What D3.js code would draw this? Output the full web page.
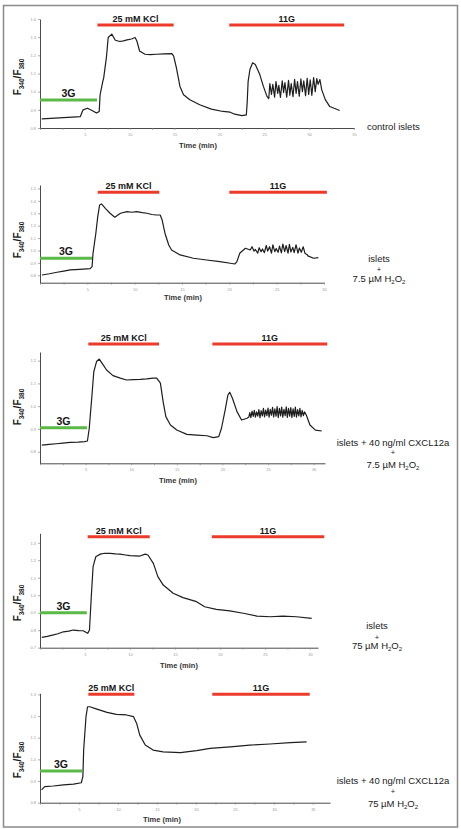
<!DOCTYPE html>
<html>
<head>
<meta charset="utf-8">
<script src="https://cdn.jsdelivr.net/npm/d3@7"></script>
<style>
  body { margin: 0; background: #fff; }
  svg { display: block; font-family: "Liberation Sans", Arial, sans-serif; }
</style>
</head>
<body>
<div id="chart"></div>
<script>
// ---- traces: [time (min), F340/F380] ----
const traceControl = [
  [0.2,0.85],[1.2,0.853],[2.6,0.857],[3.6,0.86],[4.5,0.863],[4.8,0.9],[5.3,0.909],[5.9,0.894],
  [6.3,0.882],[6.6,0.891],[6.7,0.983],[7.0,1.057],[7.1,1.076],[7.4,1.187],[7.6,1.298],[8.0,1.317],
  [8.4,1.283],[8.9,1.276],[9.3,1.28],[9.7,1.285],[10.2,1.29],[10.6,1.298],[10.8,1.279],[11.1,1.224],
  [11.7,1.206],[12.3,1.204],[13.0,1.206],[13.8,1.208],[14.7,1.209],[14.9,1.196],[15.2,1.132],[15.6,1.029],
  [16.0,0.983],[16.7,0.956],[17.8,0.928],[19.1,0.904],[20.4,0.891],[21.2,0.887],[21.7,0.876],[22.5,0.868],
  [23.0,0.872],[23.1,0.946],[23.2,1.057],[23.4,1.122],[23.7,1.159],[24.0,1.15],[24.5,1.094],[24.9,1.029],
  [25.3,0.974],[25.5,0.962],[25.62,1.045],[25.8,0.985],[25.95,1.04],[26.15,0.97],[26.3,1.055],[26.5,0.99],
  [26.62,1.035],[26.8,0.968],[27.0,1.06],[27.15,0.995],[27.3,1.05],[27.5,0.97],[27.7,1.062],[27.85,0.98],
  [28.0,1.045],[28.2,0.972],[28.38,1.068],[28.55,0.99],[28.7,1.055],[28.9,0.975],[29.08,1.07],[29.25,1.0],
  [29.4,1.06],[29.6,0.978],[29.78,1.074],[29.95,0.985],[30.12,1.065],[30.3,0.98],[30.5,1.078],[30.68,1.0],
  [30.85,1.072],[31.0,1.04],[31.2,1.067],[31.4,1.011],[31.8,0.956],[32.3,0.918],[33.4,0.896]
];
const traceH2O2Low = [
  [0.2,0.802],[1.0,0.812],[1.8,0.824],[2.5,0.834],[3.2,0.843],[4.2,0.848],[5.3,0.853],[5.5,0.869],
  [5.6,0.977],[5.9,1.139],[6.1,1.273],[6.3,1.367],[6.5,1.375],[6.9,1.34],[7.4,1.3],[7.9,1.268],
  [8.5,1.3],[9.2,1.313],[9.7,1.308],[10.2,1.313],[10.8,1.305],[11.3,1.3],[11.8,1.29],[12.3,1.286],
  [12.7,1.286],[12.9,1.246],[13.2,1.139],[13.6,1.044],[13.9,1.004],[14.8,0.964],[16.2,0.937],[17.6,0.923],
  [19.0,0.91],[20.1,0.897],[20.6,0.891],[20.8,0.91],[21.1,0.977],[21.7,1.018],[22.2,1.004],[22.4,1.03],
  [22.6,0.995],[22.75,1.008],[23.0,0.978],[23.15,1.022],[23.35,0.99],[23.5,1.012],[23.7,0.982],[23.9,1.04],
  [24.05,0.995],[24.25,1.03],[24.45,0.978],[24.6,1.045],[24.8,0.99],[24.95,1.015],[25.15,0.985],[25.3,1.035],
  [25.5,0.98],[25.65,1.052],[25.85,0.99],[26.0,1.04],[26.2,0.978],[26.35,1.05],[26.5,0.988],[26.7,1.025],
  [26.85,0.982],[27.05,1.046],[27.25,0.978],[27.4,1.02],[27.6,0.985],[27.8,1.03],[28.0,0.975],[28.2,0.968],
  [28.3,0.956],[28.9,0.937],[29.4,0.942]
];
const traceCxclLow = [
  [0.2,0.829],[1.0,0.832],[1.8,0.835],[2.5,0.838],[3.3,0.841],[4.2,0.842],[4.9,0.844],[5.2,0.847],
  [5.4,0.903],[5.7,1.049],[5.9,1.152],[6.2,1.196],[6.5,1.207],[6.8,1.189],[7.3,1.159],[8.0,1.134],
  [8.8,1.123],[9.5,1.115],[10.2,1.117],[11.0,1.118],[11.7,1.12],[12.4,1.123],[12.8,1.123],[13.2,1.101],
  [13.5,1.02],[13.8,0.954],[14.3,0.917],[15.0,0.895],[16.1,0.876],[17.2,0.873],[18.3,0.87],[19.0,0.862],
  [19.6,0.866],[19.9,0.903],[20.3,0.983],[20.6,1.049],[20.8,1.061],[21.1,1.035],[21.6,0.976],[22.1,0.939],
  [22.7,0.947],[22.9,0.952],[23.0,0.972],[23.12,0.95],[23.25,0.978],[23.38,0.955],[23.5,0.982],[23.62,0.952],
  [23.75,0.975],[23.88,0.956],[24.0,0.985],[24.12,0.95],[24.25,0.98],[24.38,0.957],[24.5,0.99],[24.62,0.953],
  [24.75,0.983],[24.88,0.958],[25.0,0.992],[25.12,0.952],[25.25,0.986],[25.38,0.96],[25.5,0.995],[25.62,0.953],
  [25.75,0.988],[25.88,0.956],[26.0,0.998],[26.12,0.95],[26.25,0.99],[26.38,0.957],[26.5,0.996],[26.62,0.952],
  [26.75,0.986],[26.88,0.958],[27.0,0.997],[27.12,0.951],[27.25,0.99],[27.38,0.956],[27.5,0.994],[27.62,0.95],
  [27.75,0.988],[27.88,0.955],[28.0,0.996],[28.12,0.952],[28.25,0.985],[28.38,0.957],[28.5,0.99],[28.62,0.953],
  [28.75,0.982],[28.88,0.958],[29.0,0.975],[29.2,0.961],[29.6,0.917],[30.2,0.895],[30.9,0.891]
];
const traceH2O2High = [
  [0.2,0.759],[0.8,0.765],[1.5,0.773],[2.0,0.78],[2.6,0.791],[3.2,0.795],[3.7,0.801],[4.3,0.798],
  [4.8,0.797],[5.3,0.782],[5.5,0.801],[5.7,0.991],[5.9,1.163],[6.2,1.22],[6.7,1.235],[7.2,1.24],
  [7.8,1.239],[8.4,1.236],[8.9,1.235],[9.5,1.23],[10.0,1.226],[10.6,1.225],[11.1,1.224],[11.7,1.235],
  [12.0,1.23],[12.6,1.182],[13.1,1.106],[13.7,1.058],[14.8,1.011],[15.9,0.986],[17.4,0.963],[18.3,0.934],
  [19.6,0.919],[21.1,0.911],[22.6,0.897],[24.1,0.881],[25.6,0.877],[27.0,0.881],[28.5,0.877],[30.2,0.868]
];
const traceCxclHigh = [
  [0.2,0.859],[0.6,0.874],[1.7,0.877],[3.0,0.882],[4.3,0.886],[5.3,0.892],[5.5,0.92],[5.6,1.043],
  [5.9,1.197],[6.1,1.243],[6.4,1.243],[7.3,1.232],[8.6,1.217],[9.8,1.208],[11.1,1.205],[12.0,1.197],
  [12.4,1.166],[12.8,1.112],[13.5,1.066],[14.5,1.043],[15.8,1.035],[18.0,1.031],[20.1,1.04],[21.8,1.051],
  [24.4,1.058],[26.9,1.066],[29.5,1.071],[32.1,1.077],[34.2,1.081]
];

// ---- perfusion periods [start, end] in min ----
const periods3G   = [[0, 6.35], [0, 5.5], [0, 5.15], [0, 5.2], [0, 5.4]];
const periodsKCl  = [[6.4, 14.9], [6.1, 12.6], [5.3, 13.05], [5.3, 12.2], [6.2, 12.1]];
const periods11G  = [[21.1, 33.9], [20.0, 30.3], [18.9, 31.5], [19.1, 31.6], [22.1, 34.6]];

// ---- axes: x extent (min), y extent, y tick labels ----
const xMax   = [35, 30, 31.25, 30.9, 37.2];
const yRange = [[0.8, 1.4], [0.74, 1.528], [0.749, 1.238], [0.7, 1.354], [0.8, 1.305]];
const yTicks = [
  [0.8, 0.9, 1.0, 1.1, 1.2, 1.3, 1.4],
  [0.8, 0.9, 1.0, 1.1, 1.2, 1.3, 1.4, 1.5],
  [0.8, 0.9, 1.0, 1.1, 1.2],
  [0.7, 0.8, 0.9, 1.0, 1.1, 1.2, 1.3],
  [0.8, 0.9, 1.0, 1.1, 1.2, 1.3]
];

// ---- condition labels (lines; "H2O2" gets subscripts) ----
const conditionLabels = [
  ["control islets"],
  ["islets", "+", "7.5 \u00B5M H2O2"],
  ["islets + 40 ng/ml CXCL12a", "+", "7.5 \u00B5M H2O2"],
  ["islets", "+", "75 \u00B5M H2O2"],
  ["islets + 40 ng/ml CXCL12a", "+", "75 \u00B5M H2O2"]
];

const traces = [traceControl, traceH2O2Low, traceCxclLow, traceH2O2High, traceCxclHigh];

// ---- page layout (pixels) ----
const layout = [
  { x0: 40, x1: 354, yBot: 128, yTop: 19, redY: 25, greenY: 100, timeX: 198, timeY: 147.5, fY: 77,
    labX: 367, labAnchor: "start", labY: [130] },
  { x0: 40, x1: 324, yBot: 282.7, yTop: 185, redY: 192.3, greenY: 258.3, timeX: 183, timeY: 300, fY: 240,
    labX: 379, labAnchor: "middle", labY: [262, 272, 282] },
  { x0: 40, x1: 325, yBot: 463.3, yTop: 352, redY: 344, greenY: 427.7, timeX: 178, timeY: 482.5, fY: 407,
    labX: 393, labAnchor: "middle", labY: [445.5, 455, 468] },
  { x0: 40, x1: 318, yBot: 647.7, yTop: 533.3, redY: 536.7, greenY: 612.7, timeX: 179, timeY: 667.5, fY: 603,
    labX: 377, labAnchor: "middle", labY: [629, 639.5, 649] },
  { x0: 40, x1: 330, yBot: 802.7, yTop: 693.3, redY: 694.3, greenY: 771, timeX: 162, timeY: 822, fY: 760,
    labX: 393, labAnchor: "middle", labY: [783.5, 793.5, 806.5] }
];

const W = 461, H = 829;
const RED = "#ec3b2b", GREEN = "#5ab947";

const svg = d3.select("#chart").append("svg")
    .attr("width", W)
    .attr("height", H);

svg.append("rect")
    .attr("x", 0).attr("y", 0).attr("width", W).attr("height", H)
    .attr("fill", "#fff");

// outer frame
svg.append("rect")
    .attr("x", 3.5).attr("y", 5.5)
    .attr("width", 454).attr("height", 821.5)
    .attr("fill", "none")
    .attr("stroke", "#8a8a8a")
    .attr("stroke-width", 1.5);

// writes "...H2O2" with subscripts into a text element
function writeChem(textSel, str, subSize) {
    const m = str.match(/^(.*)H2O2$/);
    if (m) {
        textSel.append("tspan").text(m[1] + "H");
        textSel.append("tspan").attr("dy", 2).style("font-size", subSize + "px").text("2");
        textSel.append("tspan").attr("dy", -2).text("O");
        textSel.append("tspan").attr("dy", 2).style("font-size", subSize + "px").text("2");
    } else {
        textSel.text(str);
    }
}

layout.forEach((L, i) => {
    const g = svg.append("g").attr("class", "panel");

    const x = d3.scaleLinear().domain([0, xMax[i]]).range([L.x0, L.x1]);
    const y = d3.scaleLinear().domain(yRange[i]).range([L.yBot, L.yTop]);

    // x ticks every 2.5 min, labels on 5 min steps
    const xt = d3.range(0, xMax[i] + 0.01, 2.5);
    const xAxis = d3.axisBottom(x)
        .tickValues(xt)
        .tickSize(2)
        .tickSizeOuter(0)
        .tickFormat(d => (d > 0 && d % 5 === 0) ? d : "");
    const yAxis = d3.axisLeft(y)
        .tickValues(yTicks[i])
        .tickSize(2)
        .tickSizeOuter(0)
        .tickFormat(d3.format(".1f"));

    const gx = g.append("g")
        .attr("transform", `translate(0, ${L.yBot})`)
        .call(xAxis);
    const gy = g.append("g")
        .attr("transform", `translate(${L.x0}, 0)`)
        .call(yAxis);

    [gx, gy].forEach(a => {
        a.select(".domain").attr("stroke", "#4a4a4a").attr("stroke-width", 1);
        a.selectAll(".tick line").attr("stroke", "#888").attr("stroke-width", 0.7);
        a.selectAll(".tick text")
            .attr("fill", "#9a9a9a")
            .style("font-size", "4px")
            .style("font-family", "\"Liberation Sans\", Arial, sans-serif");
    });
    gx.selectAll(".tick text").attr("y", 5);
    gy.selectAll(".tick text").attr("x", -4);

    // trace
    const line = d3.line()
        .x(d => x(d[0]))
        .y(d => y(d[1]));
    g.append("path")
        .datum(traces[i])
        .attr("d", line)
        .attr("fill", "none")
        .attr("stroke", "#1e1e1e")
        .attr("stroke-width", 1.2)
        .attr("stroke-linejoin", "round");

    // perfusion bars
    const bars = [
        { p: periods3G[i],  color: GREEN, yy: L.greenY, label: "3G",        size: 10.5 },
        { p: periodsKCl[i], color: RED,   yy: L.redY,   label: "25 mM KCl", size: 9 },
        { p: periods11G[i], color: RED,   yy: L.redY,   label: "11G",       size: 9 }
    ];
    bars.forEach(b => {
        g.append("line")
            .attr("x1", x(b.p[0])).attr("x2", x(b.p[1]))
            .attr("y1", b.yy).attr("y2", b.yy)
            .attr("stroke", b.color)
            .attr("stroke-width", 3);
        g.append("text")
            .attr("x", (x(b.p[0]) + x(b.p[1])) / 2)
            .attr("y", b.yy - 3)
            .attr("text-anchor", "middle")
            .style("font-size", b.size + "px")
            .style("font-weight", "bold")
            .attr("fill", "#161616")
            .text(b.label);
    });

    // axis titles
    g.append("text")
        .attr("x", L.timeX)
        .attr("y", L.timeY)
        .attr("text-anchor", "middle")
        .style("font-size", "7.5px")
        .style("font-weight", "bold")
        .attr("fill", "#333")
        .text("Time (min)");

    const fl = g.append("text")
        .attr("transform", `translate(21, ${L.fY}) rotate(-90)`)
        .attr("text-anchor", "middle")
        .style("font-size", "10px")
        .style("font-weight", "bold")
        .attr("fill", "#161616");
    fl.append("tspan").text("F");
    fl.append("tspan").attr("dy", 2.5).style("font-size", "6.5px").text("340");
    fl.append("tspan").attr("dy", -2.5).text("/F");
    fl.append("tspan").attr("dy", 2.5).style("font-size", "6.5px").text("380");

    // condition label
    conditionLabels[i].forEach((s, k) => {
        const t = g.append("text")
            .attr("x", L.labX)
            .attr("y", L.labY[k])
            .attr("text-anchor", L.labAnchor)
            .style("font-size", s === "+" ? "7.5px" : "9.5px")
            .attr("fill", "#1a1a1a");
        writeChem(t, s, 6);
    });
});
</script>
</body>
</html>
